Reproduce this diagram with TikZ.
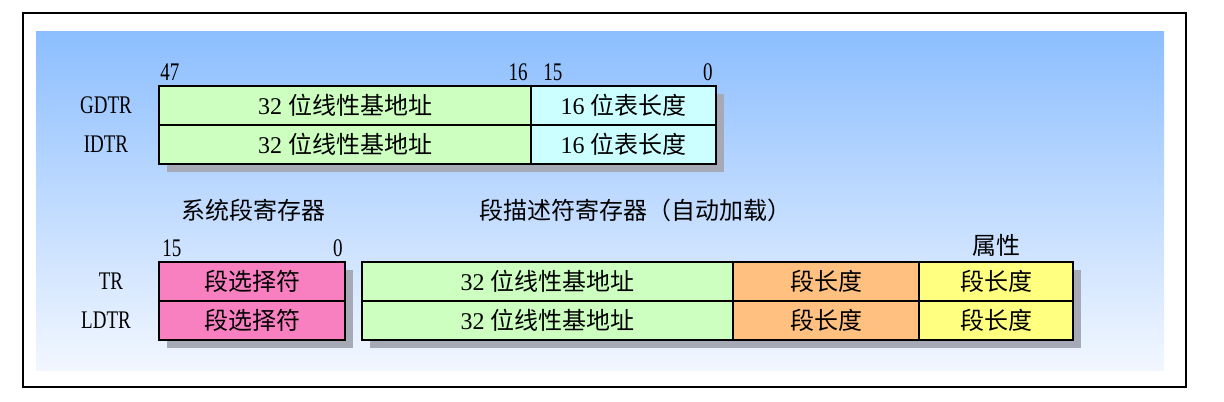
\documentclass[tikz,border=0pt]{standalone}
\usepackage{fontspec}
\setmainfont{Liberation Serif}
\newfontfamily\narrowserif[FakeStretch=0.75]{Liberation Serif}
\newfontfamily\cjk{Noto Sans CJK SC}
\usetikzlibrary{positioning,backgrounds}

\definecolor{bgtop}{RGB}{140,190,255}
\definecolor{bgbot}{RGB}{242,247,255}
\definecolor{basegreen}{RGB}{204,255,192}
\definecolor{lencyan}{RGB}{204,255,255}
\definecolor{selpink}{RGB}{248,128,192}
\definecolor{limorange}{RGB}{255,192,128}
\definecolor{attryellow}{RGB}{255,255,128}
\definecolor{shadowgray}{RGB}{166,170,182}

\newcommand{\pu}{0.75pt}
\newcommand{\zh}[1]{{\cjk\fontsize{18}{21}\selectfont #1}}

\begin{document}
\begin{tikzpicture}[x=0.75pt, y=-0.75pt,
    cell/.style={draw=black, line width=1.5pt, inner sep=0pt, outer sep=0pt,
      minimum height=39*\pu, anchor=north west, font=\fontsize{18}{21}\selectfont},
    regname/.style={inner sep=0pt, font=\narrowserif\fontsize{19}{22}\selectfont},
    bitnum/.style={inner sep=0pt, font=\narrowserif\fontsize{19}{22}\selectfont},
    title/.style={inner sep=0pt, font=\cjk\fontsize{18}{21}\selectfont},
    shadowbox/.style={fill=shadowgray}]
    \useasboundingbox (0,0) rectangle (1224,401);

    \begin{scope}[on background layer]
      \shade[top color=bgtop, bottom color=bgbot] (36,31) rectangle (1164,370);
    \end{scope}
    \draw[line width=2.2pt] (23,13) rectangle (1186,387);

    % GDTR / IDTR
    \node[cell, fill=basegreen, minimum width=372*\pu] (gdtrbase) at (159,86) {32 \zh{位线性基地址}};
    \node[cell, fill=lencyan, minimum width=185*\pu, right=0pt of gdtrbase] (gdtrlen) {16 \zh{位表长度}};
    \node[cell, fill=basegreen, minimum width=372*\pu, below=0pt of gdtrbase] (idtrbase) {32 \zh{位线性基地址}};
    \node[cell, fill=lencyan, minimum width=185*\pu, right=0pt of idtrbase] (idtrlen) {16 \zh{位表长度}};

    \node[regname] (gdtrname) at (106,105) {GDTR};
    \node[regname] (idtrname) at (106,144) {IDTR};

    \node[bitnum, anchor=base west] (bitA) at (160,80) {47};
    \node[bitnum, anchor=base east] (bitB) at (528,80) {16};
    \node[bitnum, anchor=base west] (bitC) at (543,80) {15};
    \node[bitnum, anchor=base east] (bitD) at (713,80) {0};

    % TR / LDTR
    \node[title] (systitle) at (253,210) {系统段寄存器};
    \node[title] (desctitle) at (635,210) {段描述符寄存器（自动加载）};

    \node[bitnum, anchor=base west] (bitE) at (162,256) {15};
    \node[bitnum, anchor=base east] (bitF) at (343,256) {0};

    \node[cell, fill=selpink, minimum width=186*\pu] (trsel) at (159,262) {\zh{段选择符}};
    \node[cell, fill=selpink, minimum width=186*\pu, below=0pt of trsel] (ldtrsel) {\zh{段选择符}};

    \node[cell, fill=basegreen, minimum width=371*\pu] (trbase) at (362,262) {32 \zh{位线性基地址}};
    \node[cell, fill=limorange, minimum width=186*\pu, right=0pt of trbase] (trlim) {\zh{段长度}};
    \node[cell, fill=attryellow, minimum width=154*\pu, right=0pt of trlim] (trattr) {\zh{段长度}};
    \node[cell, fill=basegreen, minimum width=371*\pu, below=0pt of trbase] (ldtrbase) {32 \zh{位线性基地址}};
    \node[cell, fill=limorange, minimum width=186*\pu, right=0pt of ldtrbase] (ldtrlim) {\zh{段长度}};
    \node[cell, fill=attryellow, minimum width=154*\pu, right=0pt of ldtrlim] (ldtrattr) {\zh{段长度}};

    \node[title, above=4pt of trattr] (attrtitle) {属性};

    \node[regname] (trname) at (111,281) {TR};
    \node[regname] (ldtrname) at (106,320) {LDTR};

    % shadows
    \begin{scope}[on background layer]
      \fill[shadowbox] ([shift={(8,8)}]gdtrbase.north west) rectangle ([shift={(8,8)}]idtrlen.south east);
      \fill[shadowbox] ([shift={(8,8)}]trsel.north west) rectangle ([shift={(8,8)}]ldtrsel.south east);
      \fill[shadowbox] ([shift={(8,8)}]trbase.north west) rectangle ([shift={(8,8)}]ldtrattr.south east);
    \end{scope}
\end{tikzpicture}
\end{document}
